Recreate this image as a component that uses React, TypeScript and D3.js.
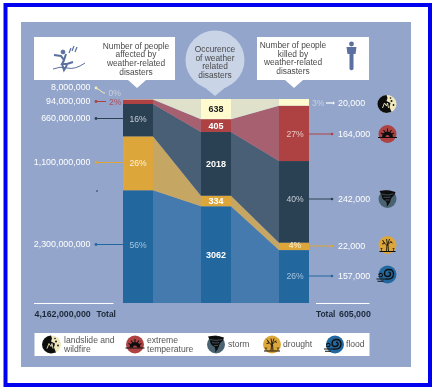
import React from "react";
import * as d3 from "d3";

const categories = ["flood", "drought", "storm", "extreme", "landslide"];
const affected = [2300000000, 1100000000, 660000000, 94000000, 8000000];
const occurrence = [3062, 334, 2018, 405, 638];
const killed = [157000, 22000, 242000, 164000, 20000];
const affectedLabels = ["2,300,000,000", "1,100,000,000", "660,000,000", "94,000,000", "8,000,000"];
const killedLabels = ["157,000", "22,000", "242,000", "164,000", "20,000"];
const affectedPct = ["56%", "26%", "16%", "2%", "0%"];
const killedPct = ["26%", "4%", "40%", "27%", "3%"];
const barColors = ["#22689f", "#dda63a", "#2b4052", "#ae4243", "#fffbcf"];
const ribbonColors = ["#457aae", "#c6a663", "#4a5e76", "#a66070", "#dfe1cb"];
const lineColors = ["#22689f", "#dda63a", "#2b4052", "#ae4243", "#f3edb8"];
const legendLabels = [["flood"], ["drought"], ["storm"], ["extreme", "temperature"], ["landslide and", "wildfire"]];

const FONT = "'Liberation Sans', Arial, sans-serif";
const W = 436, H = 389;
const x0 = 123, bw = 30, mid = 201, rt = 279;
const top = 99, bottom = 303;
const y = d3.scaleLinear().domain([0, 1]).range([bottom, top]);

function stackOf(vals: number[]) {
  const total = d3.sum(vals);
  const row: any = {};
  categories.forEach((c, i) => (row[c] = vals[i] / total));
  const s = d3.stack<any>().keys(categories)([row]);
  return s.map((l) => ({ y0: y(l[0][0]), y1: y(l[0][1]) }));
}
const sa = stackOf(affected), so = stackOf(occurrence), sk = stackOf(killed);

function ribbon(a: { y0: number; y1: number }, b: { y0: number; y1: number }, xa: number, xb: number) {
  return d3
    .area<[number, number, number]>()
    .x((d) => d[0])
    .y0((d) => d[1])
    .y1((d) => d[2])([
    [xa, a.y0, a.y1],
    [xb, b.y0, b.y1],
  ]) as string;
}

function Lines({ x, y, lines, lh, size = 8.4, fill = "#4a4a4a", anchor = "middle" }: any) {
  return (
    <text x={x} y={y} fontSize={size} fill={fill} textAnchor={anchor} fontFamily={FONT}>
      {lines.map((l: string, i: number) => (
        <tspan key={i} x={x} dy={i ? lh : 0}>{l}</tspan>
      ))}
    </text>
  );
}

function Icon({ kind, cx, cy, r = 9 }: { kind: string; cx: number; cy: number; r?: number }) {
  const k = "#111";
  if (kind === "landslide")
    return (
      <g transform={`translate(${cx},${cy})`}>
        <circle r={r} fill="#efe9bd" />
        <path d={`M-1,${-r} A${r},${r} 0 0,0 -1,${r} L4,${r - 1} L2,3 L3,-1 L-1,-3 L0,-6 Z`} fill={k} />
        <circle cx={4} cy={-3} r={1} fill={k} />
        <circle cx={6} cy={1} r={0.9} fill={k} />
        <circle cx={3} cy={-6} r={0.8} fill={k} />
        <path d="M-5,4 L-3,-1 L-1,2 L0,-1 L1,4" stroke="#efe9bd" strokeWidth={0.9} fill="none" />
      </g>
    );
  if (kind === "extreme")
    return (
      <g transform={`translate(${cx},${cy})`}>
        <circle r={r} fill="#ae4243" />
        <path d="M-5.5,3 A5.5,5.5 0 0,1 5.5,3 Z" fill={k} />
        <path d="M-9.5,3.5 H9.5" stroke={k} strokeWidth={1} />
        <path d="M0,-5.5 V-2.5 M-4,-3.8 L-2,-1.5 M4,-3.8 L2,-1.5 M-6.5,-1 L-3.5,0.5 M6.5,-1 L3.5,0.5" stroke={k} strokeWidth={1.1} />
        <path d="M-2,3 A2,2 0 0,1 2,3 Z" fill="#ae4243" />
      </g>
    );
  if (kind === "storm")
    return (
      <g transform={`translate(${cx},${cy})`}>
        <circle r={r} fill="#4a6472" />
        <path d="M-8,-8 Q0,-10 8,-7 L7,-4 Q3,-1 3,2 Q2,5 -1,8 Q0,4 -2,2 Q-6,0 -6,-4 Z" fill={k} />
        <path d="M-6,-5 Q0,-3 6,-5 M-4,-2 Q0,-1 3,-2 M-2,1 L2,1" stroke="#4a6472" strokeWidth={0.7} fill="none" />
      </g>
    );
  if (kind === "drought")
    return (
      <g transform={`translate(${cx},${cy})`}>
        <circle r={r} fill="#dda63a" />
        <path d="M-1,6 L-0.5,0 M1,6 L0.5,0 M0,1 L-4,-3 M0,0 L4,-4 M0,0 L-1,-6 M0,0 L2,-6 M-3,-2 L-5,-5 M3,-3 L5,-2 M-3,-1.5 L-5.5,-1" stroke={k} strokeWidth={0.9} fill="none" />
        <path d="M-8,6.5 H8" stroke={k} strokeWidth={1} />
        <path d="M-6,6 V3 M-7,3 L-6,4 L-5,3 M6,6 V3 M5,3 L6,4 L7,3" stroke={k} strokeWidth={0.6} fill="none" />
      </g>
    );
  return (
    <g transform={`translate(${cx},${cy})`}>
      <circle r={r} fill="#22689f" />
      <path d="M-2,4.5 Q6,5.5 6,-0.5 Q6,-5 1.5,-5 Q-3,-5 -3,-1 Q-3,2 0,2 Q3,2 3,-0.5 Q3,-2.3 1,-2.3" stroke={k} strokeWidth={1.4} fill="none" />
      <path d="M-11,4.5 H-2 M-10,6.7 H-4 M-9,2 Q-5,3 -5,0.5 Q-5,-1.5 -7.5,-1 Q-9,-0.5 -8,1" stroke={k} strokeWidth={1.1} fill="none" />
    </g>
  );
}

const leftLabelY = [244, 162, 118, 101, 87];
const rightLabelY = [276, 246, 199, 134, 103];
const iconY = [274.5, 245, 199, 134, 104];
const legendX = [335, 272, 216, 135, 52];
const legendTextX = [346, 283, 228, 147, 64];

export default function App() {
  return (
    <svg width={W} height={H} style={{ position: "fixed", left: 0, top: 0, background: "#fff" }} fontFamily={FONT}>
      <defs>
        <filter id="soft" x="0" y="0" width="100%" height="100%">
          <feGaussianBlur stdDeviation="0.35" />
        </filter>
      </defs>
      <rect x={5.5} y={5} width={424.5} height={380} fill="#fff" stroke="#0000f0" strokeWidth={4} />
      <g filter="url(#soft)">
      <rect x={21} y={22} width={390} height={345} fill="#93a5cb" />

      {/* callouts */}
      <path d="M34,37 H175 V80 H146 L137,88 L128,80 H34 Z" fill="#fff" />
      <Lines x={136} y={48.5} lh={8.9} lines={["Number of people", "affected by", "weather-related", "disasters"]} />
      <g transform="translate(69,60)" fill="#5a6f9f" stroke="#5a6f9f">
        <circle cx={-6} cy={-8} r={1.9} />
        <path d="M-15,-5 L-8,-4 L-5,0 L-3,-6 M-5,0 L-7,4 L-2,4 L4,2 M-7,4 L-5,10 L-2,5" strokeWidth={2} fill="none" />
        <path d="M-16,9 Q-9,6 -2,8 Q6,10 16,3" strokeWidth={1} fill="none" />
        <path d="M2,-12 L0,-7 M5,-14 L3,-9 M8,-13 L6,-8" strokeWidth={1.2} fill="none" />
      </g>

      <path d="M257,37 H369 V80 H303 L294,88 L285,80 H257 Z" fill="#fff" />
      <Lines x={293} y={48} lh={8.6} lines={["Number of people", "killed by", "weather-related", "disasters"]} />
      <g transform="translate(351.5,57)" fill="#5a6f9f">
        <circle cy={-13} r={2.4} />
        <path d="M-5,-10 H5 L4,-3 L2,-3 L2,12 Q0,14.5 -2,12 L-2,-3 L-4,-3 Z" />
      </g>

      <circle cx={215} cy={60} r={29.5} fill="#c9d4e7" />
      <path d="M203,86 L215,96 L227,86 Z" fill="#c9d4e7" />
      <Lines x={215} y={52} lh={8.7} lines={["Occurence", "of weather", "related", "disasters"]} />

      {/* ribbons */}
      {categories.map((c, i) => (
        <g key={c}>
          <path d={ribbon(sa[i], so[i], x0 + bw, mid)} fill={ribbonColors[i]} />
          <path d={ribbon(so[i], sk[i], mid + bw, rt)} fill={ribbonColors[i]} />
        </g>
      ))}

      {/* bars */}
      {categories.map((c, i) =>
        [
          [x0, sa[i]],
          [mid, so[i]],
          [rt, sk[i]],
        ].map(([x, s]: any, j) => (
          <rect key={c + j} x={x} y={s.y1} width={bw} height={s.y0 - s.y1} fill={barColors[i]} />
        ))
      )}

      {/* bar numbers */}
      {occurrence.map((v, i) => (
        <text key={i} x={mid + bw / 2} y={(so[i].y0 + so[i].y1) / 2 + 3.2} textAnchor="middle" fontSize={9} fontWeight="bold"
          fill={i === 4 ? "#222" : "#fff"}>{v}</text>
      ))}

      {/* left labels */}
      {affectedLabels.map((l, i) => (
        <g key={l}>
          <text x={90.5} y={leftLabelY[i] + 3} textAnchor="end" fontSize={8.9} fill="#ffffff" style={{ fill: "#ffffff" }}>{l}</text>
          <circle cx={96} cy={leftLabelY[i] + (i === 4 ? 1 : 0.5)} r={1.4} fill={lineColors[i]} />
          {i < 3 && <line x1={96} x2={x0} y1={leftLabelY[i] + 0.5} y2={leftLabelY[i] + 0.5} stroke={lineColors[i]} strokeWidth={1} />}
          {i < 3 && <text x={x0 + bw / 2} y={leftLabelY[i] + 3.5} textAnchor="middle" fontSize={8.6} fill={i === 2 ? "#c5ccd6" : i === 1 ? "#fff4d8" : "#a9c3dc"}>{affectedPct[i]}</text>}
        </g>
      ))}
      <line x1={96} x2={106} y1={101.5} y2={101.5} stroke={lineColors[3]} strokeWidth={1} />
      <text x={109} y={104.5} fontSize={8.6} fill="#b04f5b">{affectedPct[3]}</text>
      <path d="M96,88 Q100,90 102,92 Q103,93 105,93" stroke={lineColors[4]} strokeWidth={1} fill="none" />
      <text x={108.5} y={96} fontSize={8.6} fill="#c9d0dc">{affectedPct[4]}</text>
      <rect x={96} y={190.5} width={2} height={1} fill="#2b4052" />

      {/* right labels */}
      {killedLabels.map((l, i) => (
        <g key={l}>
          <text x={338} y={rightLabelY[i] + 3} fontSize={8.9} fill="#ffffff" style={{ fill: "#ffffff" }}>{l}</text>
          {i < 4 && <line x1={rt + bw} x2={332} y1={rightLabelY[i]} y2={rightLabelY[i]} stroke={lineColors[i]} strokeWidth={1} />}
          {i < 4 && <circle cx={332} cy={rightLabelY[i]} r={1.3} fill={lineColors[i]} />}
          {i < 4 && <text x={rt + bw / 2 + 1} y={rightLabelY[i] + (i === 1 ? 2 : 3)} textAnchor="middle" fontSize={8.6} fill={i === 1 ? "#fff4d8" : i === 3 ? "#e9c6c4" : i === 2 ? "#c5ccd6" : "#a9c3dc"}>{killedPct[i]}</text>}
          <Icon kind={categories[i]} cx={387.5} cy={iconY[i]} />
        </g>
      ))}
      <text x={312} y={105.5} fontSize={8.6} fill="#c9d0dc">{killedPct[4]}</text>
      <line x1={326} x2={334} y1={103} y2={103} stroke="#fff" strokeWidth={1.2} />
      <path d="M333,101.3 L334.8,103 L333,104.7 Z" fill="#fff" />

      {/* totals */}
      <line x1={34} x2={113.5} y1={303.5} y2={303.5} stroke="#fff" strokeWidth={1} />
      <text x={34.5} y={317} fontSize={8.8} fontWeight="bold" fill="#1c2a3a">4,162,000,000</text>
      <text x={96.5} y={317} fontSize={8.4} fontWeight="bold" fill="#1c2a3a">Total</text>
      <line x1={316} x2={369.5} y1={303.5} y2={303.5} stroke="#fff" strokeWidth={1} />
      <text x={316} y={317} fontSize={8.4} fontWeight="bold" fill="#1c2a3a">Total</text>
      <text x={339} y={317} fontSize={8.8} fontWeight="bold" fill="#1c2a3a">605,000</text>

      {/* legend */}
      <rect x={34.5} y={333} width={335} height={23} fill="#fff" />
      {categories.map((c, i) => (
        <g key={c}>
          <Icon kind={c} cx={legendX[i]} cy={344.5} />
          <Lines x={legendTextX[i]} y={legendLabels[i].length > 1 ? 342.8 : 347} lh={9} anchor="start" size={8.6} fill="#555" lines={legendLabels[i]} />
        </g>
      ))}
      </g>
    </svg>
  );
}
